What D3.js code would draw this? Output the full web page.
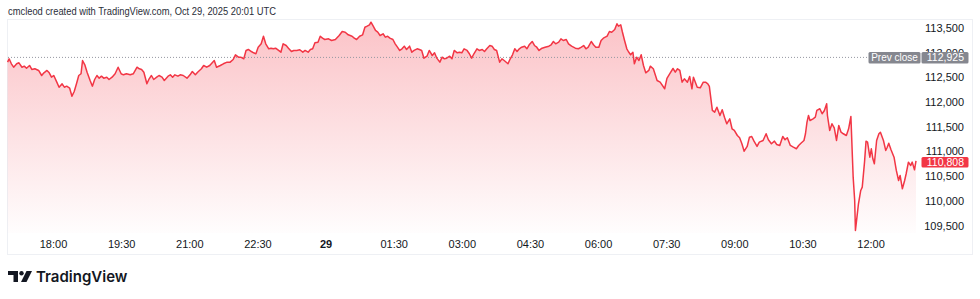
<!DOCTYPE html>
<html lang="en">
<head>
    <meta charset="UTF-8">
    <title>BTCUSD intraday</title>
    <script src="https://d3js.org/d3.v7.min.js"></script>
    <style>
        body { margin: 0; background: #fff; }
        svg { display: block; font-family: "Liberation Sans", Arial, sans-serif; }
        .axis text { fill: #131722; font-size: 11px; }
        .axis path, .axis line { display: none; }
    </style>
</head>
<body>
    <svg width="980" height="299"></svg>

    <script>
        // minutes after 17:00 (Oct 28) for every point
        const mins = [
            0,2,5,8,12,15,19,22,25,29,32,36,41,45,48,52,55,58,61,65,68,72,75,78,82,85,88,91,94,97,99,102,105,109,112,115,118,121,124,127,131,134,138,142,146,150,153,157,162,166,171,174,177,180,184,187,190,193,197,200,204,207,
            212,215,218,221,225,228,232,237,241,244,248,251,256,259,263,267,273,276,281,285,290,294,298,301,305,308,312,315,318,322,325,328,331,335,338,341,345,348,351,354,358,361,364,368,371,375,378,382,386,390,393,397,400,403,406,410,413,416,419,424,428,433,
            438,442,446,450,455,458,461,465,469,472,475,478,480,483,486,489,492,496,499,502,505,509,512,515,518,521,524,527,531,534,537,541,544,547,550,554,557,561,564,567,571,574,577,580,584,587,590,594,597,600,603,607,610,613,616,620,623,627,630,633,637,640,643,646,
            650,653,656,661,664,667,670,673,676,679,683,686,689,693,696,699,702,706,710,715,718,721,724,728,731,734,738,741,745,750,754,758,761,764,767,771,774,777,781,784,787,792,795,798,802,805,807,810,812,815,818,820,823,826,828,831,834,837,840,843,847,849,
            853,858,862,868,871,875,879,882,885,888,891,894,898,901,904,906,911,915,919,922,925,927,931,934,937,941,944,947,950,954,957,960,964,967,970,973,977,980,983,986,990,993,998,1002,1005,1009,1013,1016,1020,1024,1027,1030,1034,
            1038,1042,1045,1048,1052,1054,1056,1058,1060,1064,1067,1069,1073,1076,1079,1082,1083,1086,1089,1092,1095,1098,1101,1104,1108,1111,1114,1116,1117,1119,1120,1122,1124,1127,1129,1132,1134,1136,1139,1141,1143,1145,1148,1151,1153,1157,1160,1162,1164,1167,1171,1174,1177,1179,1182,1185,1187,1190,1193,1195,1198,1200
        ];
        const prices = [
            112808,112876,112775,112706,112775,112795,112706,112727,112686,112741,112660,112674,112640,112538,112593,112640,112593,112504,112538,112403,112301,112370,112301,112322,112281,112119,112214,112370,112538,112573,112842,112755,112605,112437,112322,112457,112538,112484,112524,112484,112504,112457,112504,112573,112706,112573,112552,112573,112552,112573,112706,112674,112660,112605,112370,112471,112538,112457,112504,112538,112504,112437,
            112524,112552,112504,112552,112524,112552,112538,112484,112552,112619,112552,112605,112674,112741,112706,112741,112842,112706,112741,112775,112808,112808,112862,112957,112909,112909,112876,113045,113065,113024,112998,112978,113111,113180,113334,113180,113079,113091,113079,113091,113045,113010,113180,113146,113091,113024,113045,113045,113059,113010,113045,113010,113065,113079,113200,113213,113334,113294,113267,113281,113247,113267,
            113348,113429,113415,113362,113334,113294,113267,113334,113362,113516,113537,113565,113618,113537,113450,113415,113348,113383,113314,113334,113294,113267,113180,113111,113045,113079,113132,113065,113132,113010,113045,113079,113065,113045,112889,112929,113045,112943,112998,112889,112808,112909,112876,112889,112929,112876,113045,112998,113010,112998,113079,113045,112978,112889,112978,113079,113045,113065,113024,113079,113146,113132,113065,113045,
            112808,112876,112842,112775,112876,112957,113079,113024,113079,113111,113132,113079,113160,113227,113146,113111,113045,113091,113111,113132,113160,113227,113180,113213,113281,113247,113267,113180,113132,113091,113079,113111,113146,113079,113111,113227,113160,113111,113111,113247,113294,113334,113429,113415,113470,113585,113537,113565,113429,113247,113079,113024,112957,113010,112775,112909,112842,112957,112741,112593,112640,112727,
            112674,112437,112403,112269,112478,112579,112680,112605,112674,112640,112403,112471,112403,112518,112269,112504,112301,112289,112403,112403,112370,112316,111830,111795,111896,111728,111844,111694,111560,111661,111459,111425,111323,111277,111155,111005,111101,111289,111303,111208,111101,111188,111222,111358,111236,111155,111208,111141,111121,111303,111236,111277,111121,
            111086,111054,111121,111167,111222,111358,111593,111728,111627,111661,111694,111830,111864,111763,111830,111965,111728,111425,111560,111479,111222,111526,111390,111358,111323,111459,111708,110884,110479,110007,109400,109669,109940,110210,110276,110783,111208,111188,110884,111054,110851,110750,111222,111358,111390,111222,111020,111086,111167,111034,110884,110615,110412,110513,110244,110412,110548,110783,110716,110783,110629,110808
        ];
        const priceTicks = [109500, 110000, 110500, 111000, 111500, 112000, 112500, 113000, 113500];
        const timeLabels = ['18:00', '19:30', '21:00', '22:30', '29', '01:30', '03:00', '04:30', '06:00', '07:30', '09:00', '10:30', '12:00'];
        const prevClose = 112925;
        const lastPrice = 110808;
        const header = 'cmcleod created with TradingView.com, Oct 29, 2025 20:01 UTC';

        const start = new Date(2025, 9, 28, 17, 0);
        const end = new Date(2025, 9, 29, 13, 0);
        const data = mins.map((m, i) => ({ t: d3.timeMinute.offset(start, m), p: prices[i] }));

        const x = d3.scaleTime().domain([start, end]).range([7.6, 916]);
        const y = d3.scaleLinear().domain([109500, 113500]).range([225.5, 28]);
        const paneBottom = 233;
        const fmt = d3.format(',');

        const svg = d3.select('svg');

        // header
        svg.append('text')
            .attr('x', 8).attr('y', 15)
            .attr('fill', '#2a2e39')
            .attr('textLength', 268)
            .attr('lengthAdjust', 'spacingAndGlyphs')
            .style('font-size', '10.5px')
            .text(header);

        // chart frame
        svg.append('rect')
            .attr('x', 7.5).attr('y', 19.5)
            .attr('width', 965).attr('height', 235)
            .attr('fill', 'none')
            .attr('stroke', '#eef0f4');

        // gradient for the area
        const grad = svg.append('defs').append('linearGradient')
            .attr('id', 'fill')
            .attr('gradientUnits', 'userSpaceOnUse')
            .attr('x1', 0).attr('x2', 0)
            .attr('y1', y(d3.max(prices))).attr('y2', paneBottom);
        grad.append('stop').attr('offset', 0).attr('stop-color', '#f23645').attr('stop-opacity', 0.3);
        grad.append('stop').attr('offset', 1).attr('stop-color', '#f23645').attr('stop-opacity', 0.01);

        svg.append('path')
            .datum(data)
            .attr('fill', 'url(#fill)')
            .attr('d', d3.area().x(d => x(d.t)).y0(paneBottom).y1(d => y(d.p)));

        // prev close dotted line
        const pcY = y(prevClose) + 1;
        svg.append('line')
            .attr('x1', 8).attr('x2', 868)
            .attr('y1', pcY).attr('y2', pcY)
            .attr('stroke', '#9598a1')
            .attr('stroke-dasharray', '1,2');

        svg.append('path')
            .datum(data)
            .attr('fill', 'none')
            .attr('stroke', '#f23645')
            .attr('stroke-width', 1.5)
            .attr('stroke-linejoin', 'round')
            .attr('d', d3.line().x(d => x(d.t)).y(d => y(d.p)));

        // price axis
        svg.append('g')
            .attr('class', 'axis')
            .attr('transform', 'translate(964,0)')
            .call(d3.axisLeft(y).tickValues(priceTicks).tickSize(0).tickPadding(0).tickFormat(fmt));

        // time axis
        const tickDates = timeLabels.map((_, i) => d3.timeMinute.offset(start, 60 + 90 * i));
        const xAxis = svg.append('g')
            .attr('class', 'axis')
            .attr('transform', 'translate(0,237)')
            .call(d3.axisBottom(x).tickValues(tickDates).tickSize(0).tickPadding(3).tickFormat((d, i) => timeLabels[i]));
        xAxis.selectAll('text').style('font-weight', (d, i) => timeLabels[i] === '29' ? 'bold' : null);

        // prev close label (sits over the 113,000 tick, as in the original)
        svg.append('rect').attr('x', 868.5).attr('y', pcY - 5.5).attr('width', 52).attr('height', 11.5).attr('rx', 1.5).attr('fill', '#85878f');
        svg.append('rect').attr('x', 921.5).attr('y', pcY - 5.5).attr('width', 47).attr('height', 11.5).attr('rx', 1.5).attr('fill', '#85878f');
        svg.append('text').attr('x', 894.5).attr('y', pcY).attr('dy', '0.35em').attr('text-anchor', 'middle')
            .attr('fill', '#fff').style('font-size', '10px').text('Prev close');
        svg.append('text').attr('x', 964).attr('y', pcY).attr('dy', '0.35em').attr('text-anchor', 'end')
            .attr('fill', '#fff').style('font-size', '10.5px').text(fmt(prevClose));

        // last price label
        const lpY = y(lastPrice) + 0.5;
        svg.append('rect').attr('x', 921.5).attr('y', lpY - 4.5).attr('width', 47).attr('height', 10.5).attr('rx', 1.5).attr('fill', '#f23645');
        svg.append('text').attr('x', 964).attr('y', lpY + 0.5).attr('dy', '0.35em').attr('text-anchor', 'end')
            .attr('fill', '#fff').style('font-size', '10.5px').text(fmt(lastPrice));

        // TradingView logo
        const logo = svg.append('g').attr('transform', 'translate(8,271)');
        logo.append('path').attr('fill', '#131722')
            .attr('d', 'M0 0H10V11H5.5V4H0Z');
        logo.append('circle').attr('fill', '#131722').attr('cx', 13.5).attr('cy', 2.2).attr('r', 2.2);
        logo.append('path').attr('fill', '#131722')
            .attr('d', 'M18.5 0H24L18.5 11H13Z');
        logo.append('text')
            .attr('x', 28).attr('y', 11)
            .attr('fill', '#131722')
            .style('font-family', 'Inter, sans-serif')
            .style('font-size', '15px')
            .style('font-weight', 600)
            .text('TradingView');
    </script>
</body>
</html>
